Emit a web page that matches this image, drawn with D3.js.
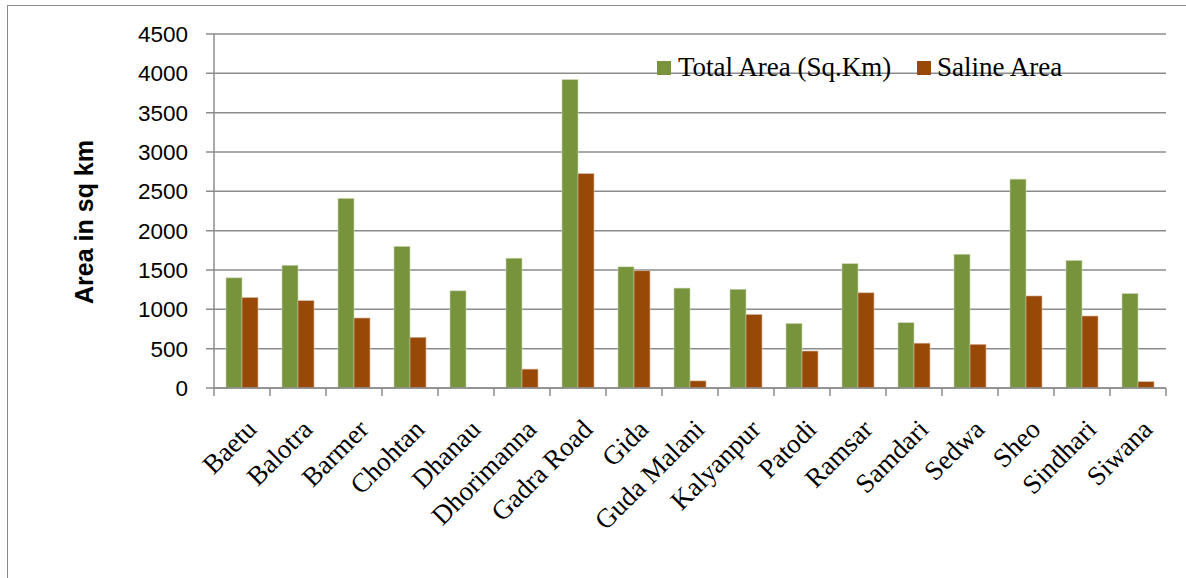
<!DOCTYPE html>
<html>
<head>
<meta charset="utf-8">
<script src="https://cdn.jsdelivr.net/npm/d3@7"></script>
<style>
  html, body { margin: 0; padding: 0; background: #fff; }
  svg { display: block; }
</style>
</head>
<body>
<svg id="chart" width="1186" height="578"></svg>
<script>
const categories = ["Baetu", "Balotra", "Barmer", "Chohtan", "Dhanau", "Dhorimanna", "Gadra Road", "Gida", "Guda Malani", "Kalyanpur", "Patodi", "Ramsar", "Samdari", "Sedwa", "Sheo", "Sindhari", "Siwana"];
const totalArea = [1400, 1560, 2410, 1800, 1235, 1650, 3920, 1540, 1270, 1255, 820, 1580, 830, 1700, 2655, 1620, 1200];
const salineArea = [1150, 1110, 890, 645, 0, 240, 2725, 1490, 90, 935, 470, 1210, 570, 555, 1170, 915, 80];
const seriesNames = ["Total Area (Sq.Km)", "Saline Area"];
const seriesColors = ["#77933C", "#984807"];
const yTicks = [0, 500, 1000, 1500, 2000, 2500, 3000, 3500, 4000, 4500];
const yTitle = "Area in sq km";

(function () {
const svg = d3.select("#chart");
const pLeft = 214, pRight = 1166, pTop = 34, pBottom = 388;

// outer chart border
svg.append("rect").attr("x", 7.5).attr("y", 5.5).attr("width", 1300).attr("height", 700)
  .attr("fill", "none").attr("stroke", "#8a8a8a").attr("stroke-width", 1);

const x = d3.scaleBand().domain(categories).range([pLeft, pRight]).padding(0);
const bw = x.bandwidth();
const x1 = d3.scaleBand().domain([0, 1]).range([bw * 0.2143, bw * 0.7857]).padding(0);
const y = d3.scaleLinear().domain([0, 4500]).range([pBottom, pTop]);

const gridColor = "#8c8c8c";

// gridlines
svg.append("g").selectAll("line").data(yTicks).join("line")
  .attr("x1", pLeft - 8).attr("x2", pRight)
  .attr("y1", d => y(d)).attr("y2", d => y(d))
  .attr("stroke", gridColor).attr("stroke-width", 1.5);

// y tick labels
svg.append("g").selectAll("text").data(yTicks).join("text")
  .attr("x", 188).attr("y", d => y(d) + 8)
  .attr("text-anchor", "end")
  .attr("font-family", "'Liberation Sans', Arial, sans-serif")
  .attr("font-size", 22.5).attr("fill", "#000")
  .text(d => d);

// bars
const data = categories.map((c, i) => ({ c, vals: [totalArea[i], salineArea[i]] }));
const groups = svg.append("g").selectAll("g").data(data).join("g")
  .attr("transform", d => `translate(${x(d.c)},0)`);
groups.selectAll("rect").data(d => d.vals.map((v, k) => ({ v, k }))).join("rect")
  .attr("x", d => x1(d.k))
  .attr("width", x1.bandwidth())
  .attr("y", d => y(d.v))
  .attr("height", d => y(0) - y(d.v))
  .attr("fill", d => seriesColors[d.k])
  .attr("stroke", d => d.v > 0 ? (d.k === 0 ? "#c9d4b0" : "#d9b9a0") : "none")
  .attr("stroke-width", 0.6);

// y axis line
svg.append("line").attr("x1", pLeft).attr("x2", pLeft).attr("y1", pTop).attr("y2", pBottom)
  .attr("stroke", gridColor).attr("stroke-width", 1.5);
// x axis line
svg.append("line").attr("x1", pLeft).attr("x2", pRight).attr("y1", pBottom).attr("y2", pBottom)
  .attr("stroke", gridColor).attr("stroke-width", 1.5);
// x ticks at category boundaries
const bounds = categories.map(c => x(c)).concat([pRight]);
svg.append("g").selectAll("line").data(bounds).join("line")
  .attr("x1", d => d).attr("x2", d => d).attr("y1", pBottom).attr("y2", pBottom + 8)
  .attr("stroke", gridColor).attr("stroke-width", 1.5);

// x labels rotated
svg.append("g").selectAll("text").data(categories).join("text")
  .attr("transform", d => `translate(${x(d) + bw / 2 + 16},${431}) rotate(-45)`)
  .attr("text-anchor", "end")
  .attr("font-family", "'Liberation Serif', 'Times New Roman', serif")
  .attr("font-size", 27).attr("fill", "#000")
  .text(d => d);

// y title
svg.append("text")
  .attr("transform", `translate(93,222) rotate(-90)`)
  .attr("text-anchor", "middle")
  .attr("font-family", "'Liberation Sans', Arial, sans-serif")
  .attr("font-weight", "bold")
  .attr("font-size", 25).attr("fill", "#000")
  .text(yTitle);

// legend
const legendPos = [{ sx: 657, tx: 678 }, { sx: 917, tx: 937 }];
const lg = svg.append("g");
seriesNames.forEach((n, i) => {
  lg.append("rect").attr("x", legendPos[i].sx).attr("y", 61).attr("width", 14).attr("height", 14)
    .attr("fill", seriesColors[i]);
  lg.append("text").attr("x", legendPos[i].tx).attr("y", 76)
    .attr("font-family", "'Liberation Serif', 'Times New Roman', serif")
    .attr("font-size", 27).attr("fill", "#000")
    .text(n);
});
})();
</script>
</body>
</html>
